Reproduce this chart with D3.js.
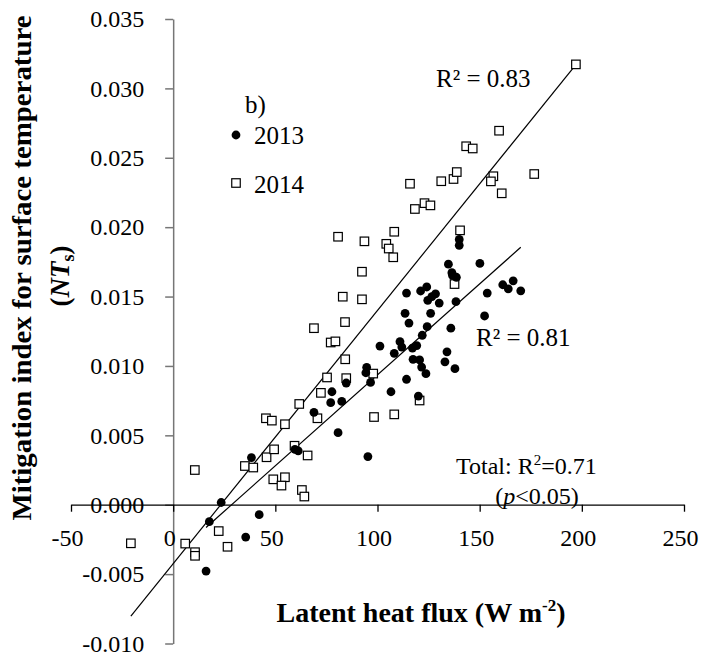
<!DOCTYPE html>
<html><head><meta charset="utf-8">
<script src="https://cdn.jsdelivr.net/npm/d3@7"></script>
<style>
body{margin:0;background:#fff;}
svg text{font-family:"Liberation Serif","Times New Roman",serif !important;fill:#000;}
</style></head>
<body><svg id="chart" width="703" height="659"></svg>
<script>
// ---- data ----
const x2013 = [16.1,17.7,23.5,35.5,42.1,38.3,59.6,61.2,68.9,77.1,82.5,77.7,80.7,95.3,84.7,96.6,94.7,94.3,101.2,108.2,111.0,111.9,117.1,119.2,117.4,120.6,121.6,123.7,114.2,106.6,120.0,121.9,124.3,115.4,113.5,126.0,114.2,121.1,124.1,126.6,128.4,124.6,130.2,134.7,136.7,138.6,136.4,138.4,135.9,140.0,140.0,150.1,153.7,152.4,161.3,164.0,166.4,170.1,134.0,133.0,137.9];
const y2013 = [-0.00478,-0.00122,0.00016,-0.00233,-0.00072,0.00340,0.00399,0.00388,0.00666,0.00735,0.00744,0.00814,0.00519,0.00347,0.00877,0.00881,0.00990,0.00951,0.01143,0.01091,0.01175,0.01136,0.01129,0.01147,0.01048,0.01043,0.00992,0.00944,0.00904,0.00814,0.00783,0.01221,0.01283,0.01309,0.01379,0.01379,0.01525,0.01540,0.01569,0.01500,0.01520,0.01473,0.01453,0.01733,0.01652,0.01639,0.01672,0.01463,0.01272,0.01912,0.01869,0.01739,0.01525,0.01360,0.01585,0.01556,0.01613,0.01541,0.01102,0.01030,0.00980];
const x2014 = [-20.7,5.9,10.7,10.7,10.6,22.3,26.6,35.1,39.2,45.7,49.4,59.4,65.8,49.0,54.7,53.0,63.0,64.2,45.4,48.3,54.7,70.6,61.7,72.3,75.3,84.7,97.9,84.2,77.1,79.4,98.3,108.2,120.6,68.9,84.1,83.0,92.4,92.4,80.7,93.6,104.3,105.5,107.7,108.2,115.9,118.3,123.0,125.9,131.2,137.2,138.8,143.4,146.6,159.5,156.7,155.5,176.7,160.8,197.1,140.4,137.7];
const y2014 = [-0.00278,-0.00280,-0.00342,-0.00368,0.00250,-0.00190,-0.00303,0.00279,0.00268,0.00342,0.00399,0.00425,0.00355,0.00183,0.00198,0.00138,0.00106,0.00059,0.00623,0.00606,0.00580,0.00623,0.00726,0.00806,0.00917,0.00912,0.00945,0.01048,0.01169,0.01177,0.00632,0.00651,0.00751,0.01272,0.01316,0.01499,0.01480,0.01679,0.01931,0.01898,0.01880,0.01846,0.01783,0.01967,0.02313,0.02131,0.02173,0.02157,0.02331,0.02347,0.02397,0.02583,0.02567,0.02695,0.02367,0.02330,0.02383,0.02244,0.03173,0.01977,0.01590];
// linear trendlines [slope, intercept]
const trend2013 = [0.0001311, -0.00375];
const trend2014 = [0.0001825, -0.00425];
const xTicks = [-50,0,50,100,150,200,250];
const yTicks = [-0.010,-0.005,0.000,0.005,0.010,0.015,0.020,0.025,0.030,0.035];
const legendLabels = ["2013","2014"];

const FONT = "'Liberation Serif','Times New Roman',serif";
const svg = d3.select("#chart");
const x = d3.scaleLinear().domain([-50,250]).range([71,684]);
const y = d3.scaleLinear().domain([-0.010,0.035]).range([643.5,19]);

// y axis at x=0
const gy = svg.append("g").attr("transform",`translate(${x(0)},0)`)
  .call(d3.axisLeft(y).tickValues(yTicks).tickSize(8).tickSizeOuter(0).tickFormat(d3.format(".3f")));
gy.attr("font-family",null).attr("font-size",null);
gy.select(".domain").attr("stroke","#767676").attr("stroke-width",1.5);
gy.selectAll(".tick line").attr("stroke","#767676").attr("stroke-width",1.5);
gy.selectAll(".tick text").attr("x",-29).style("font-size","24px").style("font-family",FONT)
  .text(d=>d3.format(".3f")(d).replace("−","-"));

// x axis at y=0
const gx = svg.append("g").attr("transform",`translate(0,${y(0)})`)
  .call(d3.axisBottom(x).tickValues(xTicks).tickSize(7).tickSizeOuter(0).tickFormat(d=>String(d)));
gx.attr("font-family",null).attr("font-size",null);
gx.select(".domain").attr("stroke","#000").attr("stroke-width",1.3);
gx.selectAll(".tick line").attr("stroke","#000").attr("stroke-width",1.3);
gx.selectAll(".tick text").attr("y",33).attr("dy","0.35em").attr("dx",-4)
  .style("font-size","24px").style("font-family",FONT);

// trendlines
function trend(xs, c){
  const lo=d3.min(xs), hi=d3.max(xs);
  return [[lo, c[0]*lo+c[1]],[hi, c[0]*hi+c[1]]];
}
const line = d3.line().x(d=>x(d[0])).y(d=>y(d[1]));
svg.append("path").attr("d",line(trend(x2014,trend2014))).attr("stroke","#000").attr("stroke-width",1.2).attr("fill","none");
svg.append("path").attr("d",line(trend(x2013,trend2013))).attr("stroke","#000").attr("stroke-width",1.2).attr("fill","none");

// points
const d14 = x2014.map((v,i)=>[v,y2014[i]]);
const d13 = x2013.map((v,i)=>[v,y2013[i]]);
const sq = 8.5;
svg.append("g").selectAll("rect").data(d14).join("rect")
  .attr("x",d=>x(d[0])-sq/2).attr("y",d=>y(d[1])-sq/2).attr("width",sq).attr("height",sq)
  .attr("fill","#fff").attr("stroke","#000").attr("stroke-width",1.2);
svg.append("g").selectAll("circle").data(d13).join("circle")
  .attr("cx",d=>x(d[0])).attr("cy",d=>y(d[1])).attr("r",4.4).attr("fill","#000");

// legend
svg.append("circle").attr("cx",236).attr("cy",135).attr("r",4.4).attr("fill","#000");
svg.append("rect").attr("x",236-sq/2).attr("y",183-sq/2).attr("width",sq).attr("height",sq).attr("fill","#fff").attr("stroke","#000").attr("stroke-width",1.2);
svg.append("text").attr("x",254).attr("y",144).attr("font-size",25).text(legendLabels[0]);
svg.append("text").attr("x",254).attr("y",193).attr("font-size",25).text(legendLabels[1]);
svg.append("text").attr("x",245).attr("y",113).attr("font-size",25).text("b)");

// annotations
svg.append("text").attr("x",436).attr("y",87).attr("font-size",25).text("R² = 0.83");
svg.append("text").attr("x",476).attr("y",346).attr("font-size",25).text("R² = 0.81");
const tot = svg.append("text").attr("x",456).attr("y",474).attr("font-size",24);
tot.append("tspan").text("Total: R");
tot.append("tspan").attr("font-size",15).attr("dy",-9).text("2");
tot.append("tspan").attr("dy",9).text("=0.71");
const pv = svg.append("text").attr("x",537).attr("y",504).attr("font-size",24).attr("text-anchor","middle");
pv.append("tspan").text("(");
pv.append("tspan").attr("font-style","italic").text("p");
pv.append("tspan").text("<0.05)");

// axis titles
svg.append("text").attr("transform","translate(31,268) rotate(-90)").attr("text-anchor","middle")
  .attr("font-size",27).attr("font-weight","bold").attr("textLength",505).attr("lengthAdjust","spacingAndGlyphs")
  .text("Mitigation index for surface temperature");
const t2 = svg.append("text").attr("transform","translate(69,276) rotate(-90)").attr("text-anchor","middle")
  .attr("font-size",27).attr("font-weight","bold");
t2.append("tspan").text("(");
t2.append("tspan").attr("font-style","italic").text("NT");
t2.append("tspan").attr("font-size",18).attr("dy",5).text("s");
t2.append("tspan").attr("dy",-5).text(")");

const xt = svg.append("text").attr("x",421).attr("y",622).attr("text-anchor","middle")
  .attr("font-size",28).attr("font-weight","bold");
xt.append("tspan").text("Latent heat flux (W m");
xt.append("tspan").attr("font-size",17).attr("dy",-11).text("-2");
xt.append("tspan").attr("dy",11).text(")");
</script></body></html>
